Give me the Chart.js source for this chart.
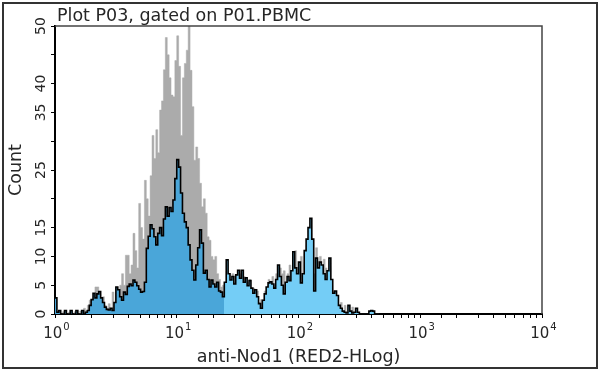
<!DOCTYPE html>
<html>
<head>
<meta charset="utf-8">
<script src="https://cdn.jsdelivr.net/npm/chart.js@4/dist/chart.umd.min.js"></script>
<style>
  html, body { margin: 0; padding: 0; background: #fff; }
  #chart { display: block; }
</style>
</head>
<body>
<canvas id="chart" width="600" height="371"></canvas>
<script>
'use strict';

// Histogram channels: 64 bins per decade, starting at 10^0.
const binsPerDecade = 64;

// Stained sample (blue, black outline), counts per bin.
const nod1Counts = [
    2.8, 0.3, 0.6, 0, 0, 0.6, 0, 0, 0.6, 0,
    0, 0.6, 0, 0, 0.6, 0, 0.3, 0.6, 1.5, 2.5,
    3.6, 2.8, 3.5, 3.9, 2.8, 2.0, 1.2, 0.8, 0.7, 1.0,
    0.6, 2.0, 4.7, 4.2, 3.0, 2.4, 3.8, 3.4, 4.8, 5.2,
    4.9, 5.9, 5.5, 4.9, 4.3, 3.8, 3.9, 5.5, 11.4, 13.5,
    15.5, 14.8, 13.4, 12.0, 14.0, 15.0, 13.6, 16.5, 18.6, 17.0,
    18.5, 17.8, 19.8, 23.5, 26.8, 25.5, 21.0, 17.5, 16.0, 15.0,
    12.0, 9.4, 7.6, 5.9, 8.5, 11.5, 14.6, 12.3, 7.1, 7.6,
    6.0, 4.7, 5.9, 5.2, 4.7, 5.5, 4.0, 3.8, 3.0, 5.5,
    9.4, 7.0, 5.9, 6.5, 5.2, 6.8, 7.6, 6.2, 7.6, 5.5,
    6.3, 4.9, 5.8, 4.5, 3.6, 4.2, 3.0, 1.8, 1.0, 2.4,
    3.5, 4.7, 5.4, 5.6, 5.2, 4.5, 6.0, 8.5, 6.5, 5.0,
    3.5, 5.5, 6.5, 5.8, 7.5, 10.8, 8.0, 7.0, 9.0, 5.4,
    7.0, 11.0, 13.0, 15.0, 16.6, 13.0, 4.0, 9.7, 8.0, 9.0,
    8.5, 7.0, 6.0, 7.5, 9.7, 6.0, 3.6, 4.0, 3.2, 1.5,
    1.0, 0.5, 0.3, 0.2, 1.5, 0.5, 0.2, 0.3, 1.0, 0.3,
    0, 0, 0, 0, 0, 0.5, 0.6, 0.5, 0, 0
];

// Control sample (grey, behind), counts per bin.
const controlCounts = [
    2.5, 0.3, 0.5, 0, 0.4, 0.6, 0, 0.3, 0.6, 0,
    0.4, 0.6, 0, 0.5, 0.6, 1.0, 0.6, 1.5, 2.4, 1.5,
    3.0, 4.7, 4.7, 3.5, 2.0, 3.0, 1.5, 1.0, 1.8, 1.0,
    3.8, 2.0, 4.7, 3.5, 5.0, 7.0, 5.0, 10.2, 10.2, 7.0,
    8.5, 14.0, 11.0, 8.0, 19.2, 15.0, 13.0, 23.2, 20.0, 17.0,
    24.0, 31.0, 27.0, 32.0, 28.0, 35.4, 37.0, 42.4, 48.0, 45.0,
    41.0, 38.0, 37.7, 44.0, 48.3, 43.0, 31.0, 41.0, 43.5, 45.8,
    50.0, 42.3, 36.0, 26.7, 29.0, 27.0, 22.7, 18.6, 20.0, 17.5,
    13.4, 12.8, 10.0, 9.4, 10.0, 7.0, 6.0, 4.7, 5.0, 4.0,
    7.5, 6.0, 4.0, 7.0, 5.5, 5.0, 6.0, 7.0, 5.0, 6.5,
    4.0, 5.5, 6.0, 3.5, 4.5, 3.0, 4.0, 2.0, 2.5, 1.5,
    4.0, 3.0, 6.0, 4.0, 6.5, 5.0, 7.0, 5.0, 8.0, 7.0,
    7.5, 4.0, 7.0, 8.5, 6.0, 9.0, 11.0, 6.0, 8.0, 10.0,
    6.0, 9.0, 12.0, 10.0, 14.0, 11.0, 7.0, 11.5, 7.0, 10.0,
    7.5, 9.5, 8.0, 5.0, 8.0, 5.0, 4.0, 2.0, 3.0, 1.0,
    2.0, 0.5, 1.5, 0, 0.8, 0, 1.2, 0, 0.5, 0,
    0, 0, 0, 0, 0, 0, 0, 0, 0, 0
];

// Marker gate: fill turns lighter above this value.
const gateValue = 24.5;

const chartTitle = 'Plot P03, gated on P01.PBMC';
const xTitle = 'anti-Nod1 (RED2-HLog)';
const yTitle = 'Count';
const xDecades = [0, 1, 2, 3, 4];
const yTickLabels = [0, 5, 10, 15, 25, 35, 40, 50];

const darkBlue = '#4aa6d9';
const lightBlue = '#74cdf6';
const greyFill = '#ababab';
const textColor = '#262626';
const fontFamily = '"DejaVu Sans", Verdana, sans-serif';

function toPoints(counts) {
    const pts = counts.map((c, i) => ({ x: Math.pow(10, i / binsPerDecade), y: c }));
    pts.push({ x: Math.pow(10, counts.length / binsPerDecade), y: 0 });
    return pts;
}

function gateFill(context) {
    const chart = context.chart;
    const area = chart.chartArea;
    if (!area) {
        return darkBlue;
    }
    const px = chart.scales.x.getPixelForValue(gateValue);
    const stop = Math.min(1, Math.max(0, (px - area.left) / (area.right - area.left)));
    const g = chart.ctx.createLinearGradient(area.left, 0, area.right, 0);
    g.addColorStop(0, darkBlue);
    g.addColorStop(stop, darkBlue);
    g.addColorStop(stop, lightBlue);
    g.addColorStop(1, lightBlue);
    return g;
}

const decorations = {
    id: 'decorations',
    afterDraw(chart) {
        const ctx = chart.ctx;
        const area = chart.chartArea;
        const xs = chart.scales.x;
        const ys = chart.scales.y;
        ctx.save();

        // frame round the whole picture
        ctx.strokeStyle = '#333';
        ctx.lineWidth = 2;
        ctx.strokeRect(3, 3, chart.width - 6, chart.height - 6);

        // top and right edges of the plot box
        ctx.strokeStyle = '#444';
        ctx.lineWidth = 1.5;
        ctx.beginPath();
        ctx.moveTo(area.left, area.top);
        ctx.lineTo(area.right, area.top);
        ctx.lineTo(area.right, area.bottom);
        ctx.stroke();

        ctx.fillStyle = textColor;

        // chart title
        ctx.font = '17.5px ' + fontFamily;
        ctx.textAlign = 'left';
        ctx.textBaseline = 'alphabetic';
        ctx.fillText(chartTitle, area.left + 2, 21);

        // x title
        ctx.font = '17.5px ' + fontFamily;
        ctx.textAlign = 'center';
        ctx.fillText(xTitle, (area.left + area.right) / 2, 362);

        // y title
        ctx.save();
        ctx.translate(21, (area.top + area.bottom) / 2);
        ctx.rotate(-Math.PI / 2);
        ctx.textBaseline = 'alphabetic';
        ctx.fillText(yTitle, 0, 0);
        ctx.restore();

        // y tick labels (rotated)
        ctx.font = '14px ' + fontFamily;
        yTickLabels.forEach(v => {
            ctx.save();
            ctx.translate(45, ys.getPixelForValue(v));
            ctx.rotate(-Math.PI / 2);
            ctx.textAlign = 'center';
            ctx.textBaseline = 'alphabetic';
            ctx.fillText(String(v), 0, 0);
            ctx.restore();
        });

        // x tick labels: 10 with superscript exponent
        xDecades.forEach(e => {
            const px = xs.getPixelForValue(Math.pow(10, e));
            ctx.font = '15px ' + fontFamily;
            const baseW = ctx.measureText('10').width;
            ctx.font = '10px ' + fontFamily;
            const expW = ctx.measureText(String(e)).width;
            const left = px - (baseW + expW) / 2 + 1;
            ctx.textAlign = 'left';
            ctx.font = '15px ' + fontFamily;
            ctx.fillText('10', left, 338);
            ctx.font = '10px ' + fontFamily;
            ctx.fillText(String(e), left + baseW + 1, 330);
        });

        ctx.restore();
    }
};

new Chart(document.getElementById('chart'), {
    type: 'line',
    data: {
        datasets: [
            {
                data: toPoints(nod1Counts),
                stepped: true,
                fill: 'origin',
                backgroundColor: gateFill,
                borderColor: '#000',
                borderWidth: 1.6,
                pointRadius: 0,
                tension: 0
            },
            {
                data: toPoints(controlCounts),
                stepped: true,
                fill: 'origin',
                backgroundColor: greyFill,
                borderColor: greyFill,
                borderWidth: 0.5,
                pointRadius: 0,
                tension: 0
            }
        ]
    },
    options: {
        responsive: false,
        animation: false,
        devicePixelRatio: 1,
        layout: { padding: { left: 0, right: 58, top: 26, bottom: 0 } },
        scales: {
            x: {
                type: 'logarithmic',
                min: 1,
                max: 10000,
                ticks: { display: false },
                grid: { drawOnChartArea: false, drawTicks: true, tickLength: 4, color: '#000', lineWidth: 1 },
                border: { color: '#000', width: 2 },
                afterFit: (scale) => { scale.height = 57; }
            },
            y: {
                min: 0,
                max: 50,
                ticks: { display: false, stepSize: 5 },
                grid: { drawOnChartArea: false, drawTicks: true, tickLength: 4, color: '#000', lineWidth: 1 },
                border: { color: '#000', width: 2 },
                afterFit: (scale) => { scale.width = 55; }
            }
        },
        plugins: {
            legend: { display: false },
            tooltip: { enabled: false }
        }
    },
    plugins: [decorations]
});
</script>
</body>
</html>
